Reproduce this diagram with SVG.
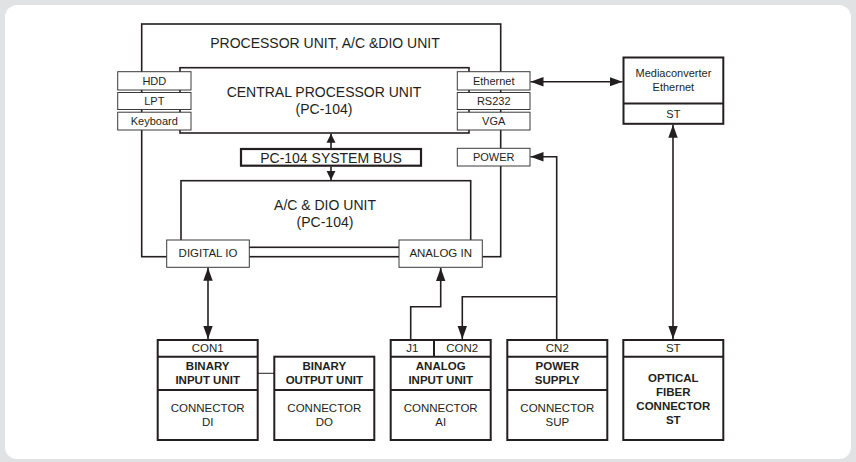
<svg xmlns="http://www.w3.org/2000/svg" width="856" height="462" viewBox="0 0 856 462">
<style>
.bx{fill:none;stroke:#231f20;stroke-width:1.6}
.pt{fill:#fff;stroke:#3a3a3a;stroke-width:1}
.bb{fill:#fff;stroke:#231f20;stroke-width:2}
.t{font-family:"Liberation Sans",Arial,sans-serif;fill:#231f20;text-anchor:middle}
.t14{font-size:14px}
.t11{font-size:11px}
.t115{font-size:11.5px}
.b{font-weight:bold}
.c{fill:none;stroke:#231f20;stroke-width:1.6}
</style>
<defs>
<marker id="ah" markerUnits="userSpaceOnUse" markerWidth="14" markerHeight="10" refX="13" refY="5" orient="auto-start-reverse"><path d="M0,0.3 L13,5 L0,9.7 z" fill="#231f20"/></marker>
<marker id="as" markerUnits="userSpaceOnUse" markerWidth="10" markerHeight="10" refX="9" refY="5" orient="auto-start-reverse"><path d="M0,0.5 L9,5 L0,9.5 z" fill="#231f20"/></marker>
</defs>
<rect width="856" height="462" fill="#e1e2e4"/>
<rect x="5" y="5" width="846" height="454" rx="12" fill="#fff"/>

<g id="processor-unit">
<rect class="bx" x="141.7" y="24" width="359" height="232.7"/>
<text class="t t14" x="325" y="48">PROCESSOR UNIT, A/C &amp;DIO UNIT</text>
</g>
<g id="cpu">
<rect class="bx" x="180" y="67.7" width="289" height="65.3"/>
<text class="t t14" x="324" y="97">CENTRAL PROCESSOR UNIT</text>
<text class="t t14" x="324" y="114">(PC-104)</text>
</g>
<g id="acdio">
<rect class="bx" x="181" y="180.7" width="289.7" height="66.6"/>
<text class="t t14" x="325" y="210">A/C &amp; DIO UNIT</text>
<text class="t t14" x="325" y="227">(PC-104)</text>
</g>
<g id="hdd"><rect class="pt" x="117.7" y="71.7" width="73.3" height="18.3"/><text class="t t11" x="154.3" y="84.8">HDD</text></g>
<g id="lpt"><rect class="pt" x="117.7" y="92.5" width="73.3" height="17"/><text class="t t11" x="154.3" y="105">LPT</text></g>
<g id="keyboard"><rect class="pt" x="117.7" y="112.2" width="73.3" height="17.8"/><text class="t t11" x="154.3" y="125">Keyboard</text></g>
<g id="ethernet"><rect class="pt" x="457.3" y="71.7" width="72.7" height="18.3"/><text class="t t11" x="493.7" y="84.8">Ethernet</text></g>
<g id="rs232"><rect class="pt" x="457.3" y="92.5" width="72.7" height="17"/><text class="t t11" x="493.7" y="105">RS232</text></g>
<g id="vga"><rect class="pt" x="457.3" y="112.2" width="72.7" height="17.8"/><text class="t t11" x="493.7" y="125">VGA</text></g>
<g id="power"><rect class="pt" x="457.3" y="148.3" width="72.7" height="17.7"/><text class="t t11" x="493.7" y="161">POWER</text></g>
<g id="bus"><rect x="241" y="149" width="180" height="16.7" fill="#fff" stroke="#231f20" stroke-width="2.2"/><text class="t t14" x="331" y="162.5">PC-104 SYSTEM BUS</text></g>
<g id="digital-io"><rect class="pt" x="166.7" y="240" width="82.6" height="27.3"/><text class="t t115" x="208" y="257.3">DIGITAL IO</text></g>
<g id="analog-in"><rect class="pt" x="399" y="240" width="83.3" height="27.3"/><text class="t t115" x="440.7" y="257.3">ANALOG IN</text></g>

<g id="mediaconverter">
<rect class="bb" x="623.5" y="57.5" width="99.8" height="66.3"/>
<line x1="623.5" y1="103.5" x2="723.3" y2="103.5" stroke="#231f20" stroke-width="2"/>
<text class="t t11" x="673.4" y="76.5">Mediaconverter</text>
<text class="t t11" x="673.4" y="90.5">Ethernet</text>
<text class="t t11" x="673.4" y="118">ST</text>
</g>

<g id="binary-input">
<rect class="bb" x="157.7" y="340" width="100" height="100"/>
<path d="M157.7,356.7 H257.7 M157.7,390 H257.7" stroke="#231f20" stroke-width="2"/>
<text class="t t115" x="207.7" y="352">CON1</text>
<text class="t t115 b" x="207.7" y="370">BINARY</text>
<text class="t t115 b" x="207.7" y="384">INPUT UNIT</text>
<text class="t t115" x="207.7" y="411.7">CONNECTOR</text>
<text class="t t115" x="207.7" y="425.7">DI</text>
</g>
<g id="binary-output">
<rect class="bb" x="274.3" y="356.7" width="100" height="83.3"/>
<path d="M274.3,390 H374.3" stroke="#231f20" stroke-width="2"/>
<text class="t t115 b" x="324.3" y="370">BINARY</text>
<text class="t t115 b" x="324.3" y="384">OUTPUT UNIT</text>
<text class="t t115" x="324.3" y="411.7">CONNECTOR</text>
<text class="t t115" x="324.3" y="425.7">DO</text>
</g>
<g id="analog-input">
<rect class="bb" x="390.7" y="340" width="100" height="100"/>
<path d="M390.7,356.7 H490.7 M390.7,390 H490.7 M434,340 V356.7" stroke="#231f20" stroke-width="2"/>
<text class="t t115" x="412.3" y="352">J1</text>
<text class="t t115" x="462.3" y="352">CON2</text>
<text class="t t115 b" x="440.7" y="370">ANALOG</text>
<text class="t t115 b" x="440.7" y="384">INPUT UNIT</text>
<text class="t t115" x="440.7" y="411.7">CONNECTOR</text>
<text class="t t115" x="440.7" y="425.7">AI</text>
</g>
<g id="power-supply">
<rect class="bb" x="507.3" y="340" width="100" height="100"/>
<path d="M507.3,356.7 H607.3 M507.3,390 H607.3" stroke="#231f20" stroke-width="2"/>
<text class="t t115" x="557.3" y="352">CN2</text>
<text class="t t115 b" x="557.3" y="370">POWER</text>
<text class="t t115 b" x="557.3" y="384">SUPPLY</text>
<text class="t t115" x="557.3" y="411.7">CONNECTOR</text>
<text class="t t115" x="557.3" y="425.7">SUP</text>
</g>
<g id="optical-fiber">
<rect class="bb" x="623.3" y="340" width="100" height="100"/>
<path d="M623.3,356.7 H723.3" stroke="#231f20" stroke-width="2"/>
<text class="t t115" x="673.3" y="352">ST</text>
<text class="t t115 b" x="673.3" y="381.7">OPTICAL</text>
<text class="t t115 b" x="673.3" y="395.7">FIBER</text>
<text class="t t115 b" x="673.3" y="409.5">CONNECTOR</text>
<text class="t t115 b" x="673.3" y="423.5">ST</text>
</g>

<g id="connectors">
<line class="c" x1="331" y1="148" x2="331" y2="133.8" marker-end="url(#as)"/>
<line class="c" x1="331" y1="166.7" x2="331" y2="179.9" marker-end="url(#as)"/>
<line class="c" x1="530.5" y1="81.7" x2="622.5" y2="81.7" marker-start="url(#ah)" marker-end="url(#ah)"/>
<line class="c" x1="673" y1="124.8" x2="673" y2="339" marker-start="url(#ah)" marker-end="url(#ah)"/>
<line class="c" x1="208" y1="267.8" x2="208" y2="339" marker-start="url(#ah)" marker-end="url(#ah)"/>
<path class="c" d="M410.7,339 V306.7 H440.7 V268" marker-end="url(#ah)"/>
<path class="c" d="M556.7,339 V156.7 H530.5" marker-end="url(#ah)"/>
<path class="c" d="M556.7,296.7 H462.3 V339" marker-end="url(#ah)"/>
<line x1="257.7" y1="373.3" x2="274.3" y2="373.3" stroke="#231f20" stroke-width="1"/>
</g>
</svg>
